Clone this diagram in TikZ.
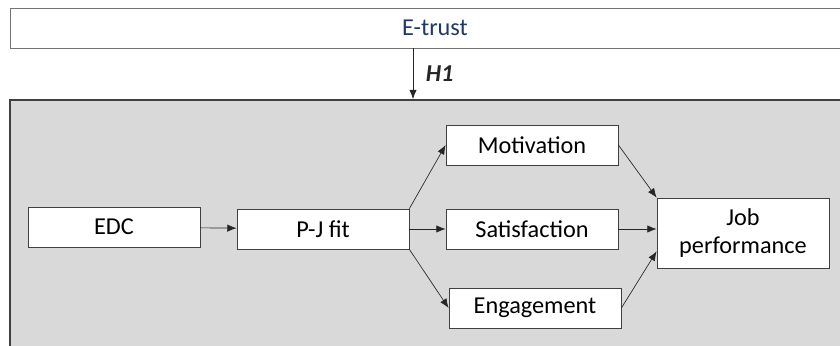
\documentclass[tikz,border=0pt]{standalone}
\usepackage{fontspec}
\setmainfont{Carlito}
\usepackage{xcolor}
\usetikzlibrary{arrows.meta}

\definecolor{trustblue}{HTML}{1F3864}
\definecolor{panelgray}{HTML}{D9D9D9}

\begin{document}
\begin{tikzpicture}[x=0.75pt, y=-0.75pt,
    box/.style={draw=black!75, fill=white, line width=0.6pt,
                minimum width=129pt, minimum height=30pt, inner sep=0pt,
                font=\fontsize{18.2}{21}\selectfont},
    link/.style={-{Latex[length=7pt,width=5.5pt]}, line width=0.5pt, black!85}]
      \useasboundingbox (0,0) rectangle (840,346);
      \clip (0,0) rectangle (840,346);

      % moderator and the framed model
      \node[draw=black!55, line width=0.6pt, minimum width=637.5pt, minimum height=30pt,
            text=trustblue, font=\fontsize{18.2}{21}\selectfont] (trust) at (435,28) {E-trust};
      \node[draw=black!75, fill=panelgray, line width=1.3pt,
            minimum width=637.5pt, minimum height=225pt] (panel) at (435,250) {};

      \node[box] (edc) at (114,227) {EDC};
      \node[box] (pj)  at (323,229) {P-J fit};
      \node[box] (mot) at (532,145) {Motivation};
      \node[box] (sat) at (532,229) {Satisfaction};
      \node[box] (eng) at (535,308) {Engagement};
      \node[box, minimum height=52.5pt, align=center] (job) at (743,233) {Job\\performance};

      \coordinate (hx) at (413,0);
      \draw[link] (trust.south -| hx) -- node[right, xshift=6pt, font=\fontsize{18.2}{21}\selectfont\bfseries\itshape] (h1) {H1} (panel.north -| hx);

      \draw[link] (edc) -- (pj);
      \draw[link] (pj.north east) -- (mot.west);
      \draw[link] (pj.east) -- (sat.west);
      \draw[link] (pj.south east) -- (eng.west);
      \draw[link] (mot.east) -- (job.north west);
      \draw[link] (sat.east) -- (sat.east -| job.west);
      \draw[link] (eng.east) -- (job.192.5);
\end{tikzpicture}
\end{document}
